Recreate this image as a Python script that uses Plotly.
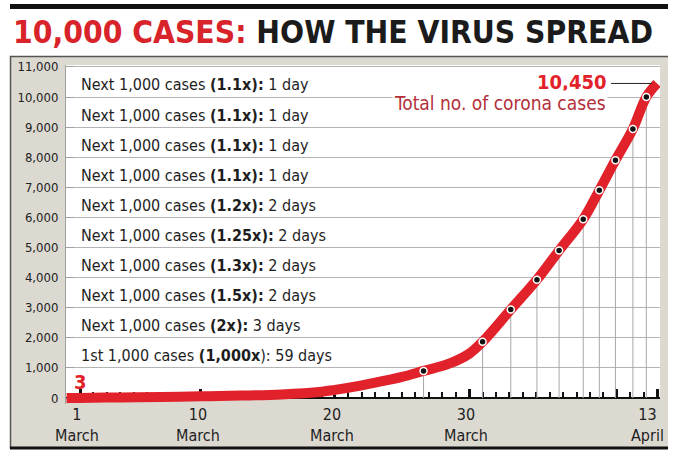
import plotly.graph_objects as go

# ---------------- data ----------------
# x = day number (1 = 1 March, 32 = 1 April, 44 = 13 April)
curve_days = [0, 1, 4, 7, 10, 13, 16, 19, 20, 22, 24, 25, 26.6, 28.5, 30, 31,
              33.1, 35.05, 36.7, 38.5, 39.7, 40.9, 42.2, 43.2, 44]
curve_vals = [3, 3, 20, 35, 55, 80, 120, 210, 270, 420, 600, 700, 900, 1140, 1470, 1870,
              2940, 3930, 4900, 5940, 6900, 7900, 8940, 10000, 10450]

# days on which each further 1,000 cases were crossed (dots)
cross_days = [26.6, 31.0, 33.1, 35.05, 36.7, 38.5, 39.7, 40.9, 42.2, 43.2]
cross_vals = [900, 1870, 2940, 3930, 4900, 5940, 6900, 7900, 8940, 10000]

start_day, start_val = 1, 3
end_day, end_val = 44, 10450

# row texts, bottom row first
row_prefix = ["1st 1,000 cases", "Next 1,000 cases", "Next 1,000 cases", "Next 1,000 cases",
              "Next 1,000 cases", "Next 1,000 cases", "Next 1,000 cases", "Next 1,000 cases",
              "Next 1,000 cases", "Next 1,000 cases"]
row_factor = ["(1,000x", "(2x):", "(1.5x):", "(1.3x):", "(1.25x):", "(1.2x):",
              "(1.1x):", "(1.1x):", "(1.1x):", "(1.1x):"]
row_after = ["): 59 days", " 3 days", " 2 days", " 2 days", " 2 days", " 2 days",
             " 1 day", " 1 day", " 1 day", " 1 day"]

y_ticks = list(range(0, 11001, 1000))
x_major_ticks = [1, 10, 20, 30, 41, 44]
x_minor_ticks = list(range(1, 45))
x_label_days = [1, 10, 20, 30, 44]
x_label_nums = ["1", "10", "20", "30", "13"]
x_label_months = ["March", "March", "March", "March", "April"]

# ---------------- style ----------------
RED = "#e2222b"
PANEL = "#dcd9d1"
COND = "DejaVu Sans Condensed, DejaVu Sans, sans-serif"

W, H = 680, 457
ML, MR, MT, MB = 66, 20, 65, 53
PW, PH = W - ML - MR, H - MT - MB


def px_x(px):
    return (px - ML) / PW


def px_y(py):
    return (H - MB - py) / PH


fig = go.Figure()

# drop lines from each dot to the axis
drop_x, drop_y = [], []
for d, v in zip(cross_days, cross_vals):
    drop_x += [d, d, None]
    drop_y += [v, 0, None]
fig.add_trace(go.Scatter(x=drop_x, y=drop_y, mode="lines",
                         line=dict(color="#a8a8a8", width=1),
                         hoverinfo="skip", showlegend=False))

fig.add_trace(go.Scatter(x=curve_days, y=curve_vals, mode="lines",
                         line=dict(color=RED, width=10, shape="spline", smoothing=1.0),
                         showlegend=False))

fig.add_trace(go.Scatter(x=cross_days, y=cross_vals, mode="markers",
                         marker=dict(color="#111111", size=7,
                                     line=dict(color="white", width=1.5)),
                         showlegend=False))

shapes = []
# panel
shapes.append(dict(type="rect", xref="paper", yref="paper", layer="below",
                   x0=px_x(10), x1=px_x(668), y0=px_y(449), y1=px_y(56),
                   fillcolor=PANEL, line=dict(width=0)))
shapes.append(dict(type="line", xref="paper", yref="paper",
                   x0=px_x(10), x1=px_x(668), y0=px_y(56.5), y1=px_y(56.5),
                   line=dict(color="#555", width=1.5)))
shapes.append(dict(type="line", xref="paper", yref="paper",
                   x0=px_x(10.5), x1=px_x(10.5), y0=px_y(449), y1=px_y(56),
                   line=dict(color="#555", width=1.5)))
shapes.append(dict(type="line", xref="paper", yref="paper",
                   x0=px_x(10), x1=px_x(668), y0=px_y(448), y1=px_y(448),
                   line=dict(color="#111", width=3)))
# top bar
shapes.append(dict(type="rect", xref="paper", yref="paper",
                   x0=px_x(10), x1=px_x(668), y0=px_y(9), y1=px_y(4),
                   fillcolor="#111", line=dict(width=0)))
# white chart area above zero
shapes.append(dict(type="rect", xref="paper", yref="y", layer="below",
                   x0=0, x1=1, y0=0, y1=11063,
                   fillcolor="white", line=dict(width=0)))
# leader line to the final value
shapes.append(dict(type="line", xref="x", yref="y", xsizemode="pixel", xanchor=end_day,
                   x0=-46, x1=-5, y0=end_val, y1=end_val,
                   line=dict(color="#222", width=1)))

annotations = []
annotations.append(dict(
    xref="paper", yref="paper", x=px_x(11), y=px_y(32), xanchor="left", yanchor="middle",
    text="<b><span style='color:#d8232a'>10,000 CASES:</span> HOW THE VIRUS SPREAD</b>",
    showarrow=False, font=dict(family=COND, size=31.5, color="#1b1b1b")))

for i, (p, f, a) in enumerate(zip(row_prefix, row_factor, row_after)):
    annotations.append(dict(
        xref="paper", yref="y", x=px_x(79), y=(i + 1) * 1000 + 500, yshift=-3,
        xanchor="left", yanchor="middle", showarrow=False,
        text=f"{p} <b>{f}</b>{a}",
        font=dict(family=COND, size=16, color="#1e1e1e")))

annotations.append(dict(x=start_day, y=start_val, yshift=16, showarrow=False,
                        text="<b>3</b>", font=dict(family=COND, size=20, color=RED)))
annotations.append(dict(x=end_day, y=end_val, xanchor="right", yanchor="middle",
                        xshift=-49, yshift=1, showarrow=False, text="<b>10,450</b>",
                        font=dict(family=COND, size=20, color=RED)))
annotations.append(dict(x=end_day, y=end_val, xanchor="right", yanchor="middle",
                        xshift=-49, yshift=-20,
                        showarrow=False, text="Total no. of corona cases", bgcolor="white",
                        font=dict(family=COND, size=19, color="#b3303a")))

for d, n, m in zip(x_label_days, x_label_nums, x_label_months):
    shift = -10 if m == "April" else -3
    annotations.append(dict(x=d, y=0, yanchor="top", yshift=-5, xshift=shift,
                            showarrow=False, text=f"{n}<br>{m}",
                            font=dict(family=COND, size=16, color="#1e1e1e")))

fig.update_layout(
    width=W, height=H,
    margin=dict(l=ML, r=MR, t=MT, b=MB),
    paper_bgcolor="white", plot_bgcolor=PANEL,
    shapes=shapes, annotations=annotations,
    xaxis=dict(range=[-0.043, 44.22], anchor="free", position=6 / PH,
               showgrid=False, zeroline=False, showline=True, linecolor="#111", linewidth=1.5,
               ticks="inside", tickvals=x_major_ticks, ticklen=8, tickwidth=3, tickcolor="#111",
               showticklabels=False, layer="below traces",
               minor=dict(tickvals=x_minor_ticks, ticks="inside", ticklen=5,
                          tickwidth=1.5, tickcolor="#111", showgrid=False)),
    yaxis=dict(range=[-199, 11063], tickvals=y_ticks, tickformat=",d",
               showgrid=True, gridcolor="#b4b4b4", gridwidth=1, zeroline=False,
               showline=True, linecolor="#a0a0a0", linewidth=1,
               ticks="inside", ticklen=8, tickcolor="#a0a0a0",
               ticklabelstandoff=4, layer="below traces",
               tickfont=dict(family=COND, size=13, color="#222")),
)

fig.write_html("out.html")
